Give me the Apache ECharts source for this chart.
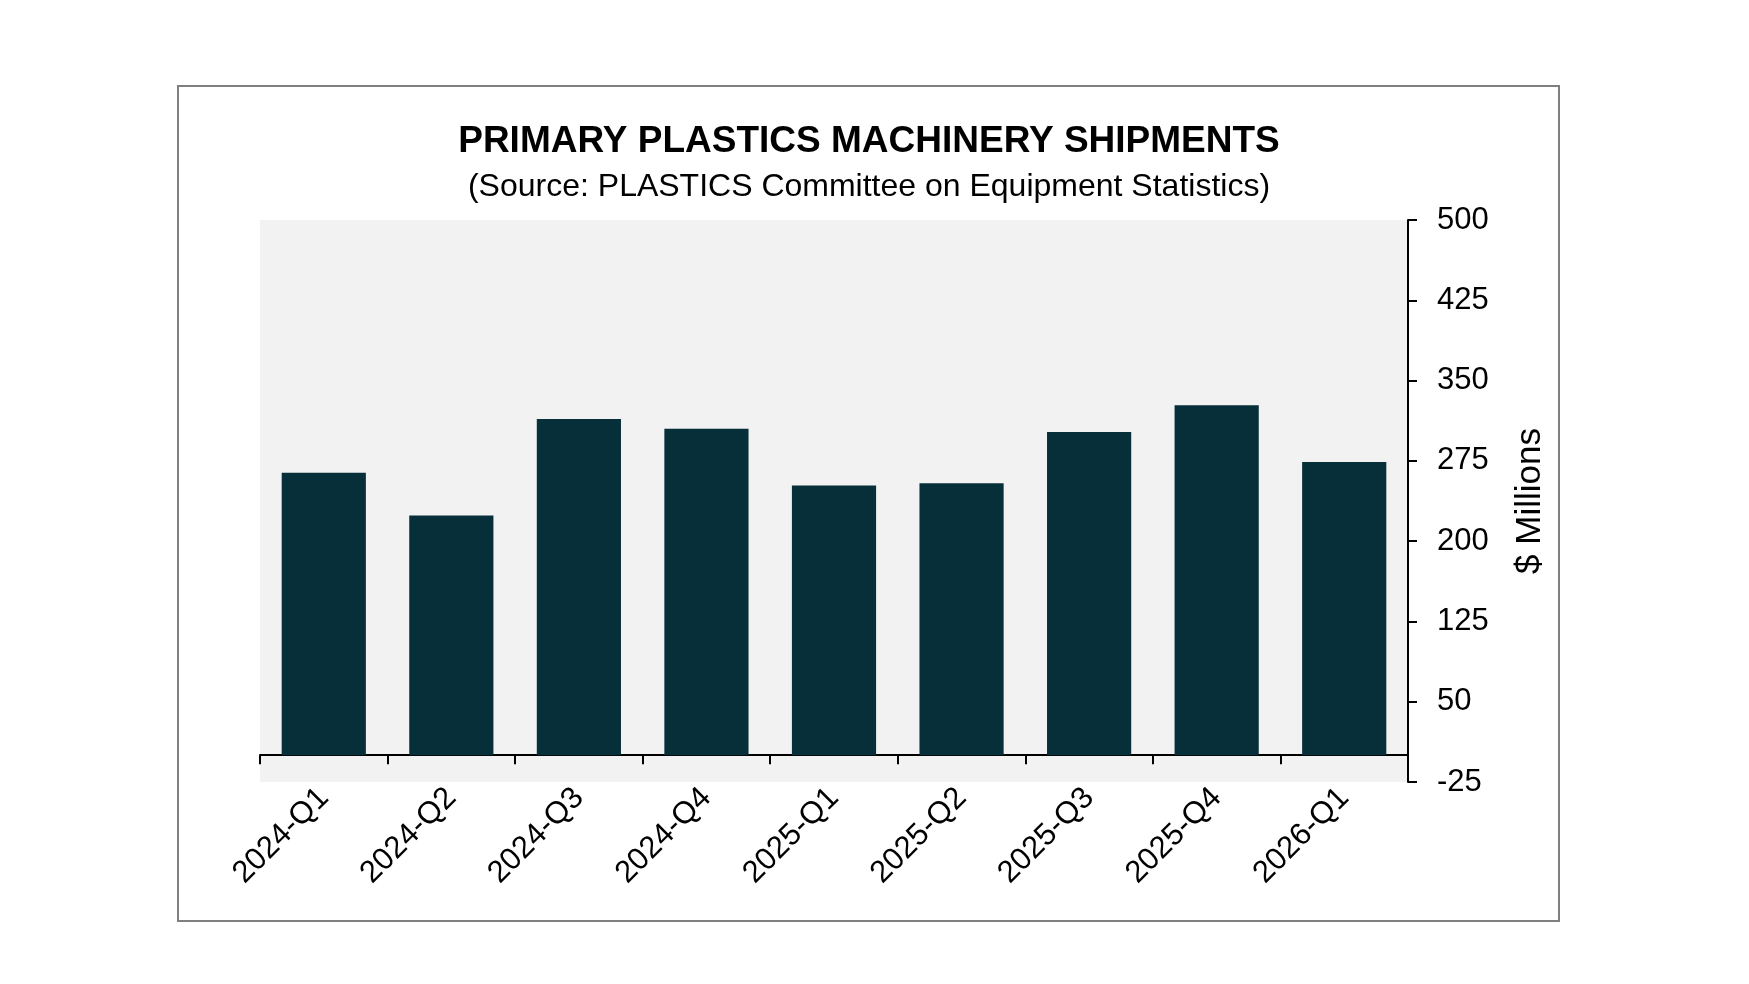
<!DOCTYPE html>
<html>
<head>
<meta charset="utf-8">
<script src="https://cdn.jsdelivr.net/npm/echarts@6/dist/echarts.min.js"></script>
<style>
  html, body { margin: 0; padding: 0; background: #fff; }
  #chart { width: 1749px; height: 984px; }
</style>
</head>
<body>
<div id="chart"></div>
<script>
// quarters and shipments ($ millions)
const categories = ['2024-Q1', '2024-Q2', '2024-Q3', '2024-Q4', '2025-Q1', '2025-Q2', '2025-Q3', '2025-Q4', '2026-Q1']
const shipments = [264, 224, 314, 305, 252, 254, 302, 327, 274]
const yMin = -25
const yMax = 500
const yStep = 75

const chart = echarts.init(document.getElementById('chart'))
const font = 'Liberation Sans, Arial, sans-serif'

chart.setOption({
    animation: false,
    backgroundColor: '#ffffff',
    graphic: [
        {
            type: 'rect',
            shape: { x: 178, y: 86, width: 1381, height: 835 },
            style: { fill: 'none', stroke: '#7f7f7f', lineWidth: 2 },
            z: 0
        }
    ],
    title: [
        {
            text: 'PRIMARY PLASTICS MACHINERY SHIPMENTS',
            left: 864,
            top: 118,
            textAlign: 'center',
            textStyle: { fontFamily: font, fontSize: 37, fontWeight: 'bold', color: '#000' }
        },
        {
            text: '(Source: PLASTICS Committee on Equipment Statistics)',
            left: 864,
            top: 166,
            textAlign: 'center',
            textStyle: { fontFamily: font, fontSize: 32, fontWeight: 'normal', color: '#000' }
        }
    ],
    grid: {
        left: 260,
        right: 341,
        top: 220,
        bottom: 202,
        show: true,
        backgroundColor: '#f2f2f2',
        borderWidth: 0
    },
    xAxis: {
        type: 'category',
        data: categories,
        axisLine: { onZero: true, lineStyle: { color: '#000', width: 2 } },
        axisTick: { show: true, length: 9, lineStyle: { color: '#000', width: 2 } },
        axisLabel: {
            interval: 0,
            rotate: 45,
            margin: 11,
            fontFamily: font,
            fontSize: 31,
            color: '#000'
        },
        splitLine: { show: false }
    },
    yAxis: {
        type: 'value',
        position: 'right',
        min: yMin,
        max: yMax,
        interval: yStep,
        name: '$ Millions',
        nameLocation: 'middle',
        nameGap: 105,
        nameRotate: 90,
        nameTextStyle: { fontFamily: font, fontSize: 35, color: '#000' },
        axisLine: { show: true, lineStyle: { color: '#000', width: 2 } },
        axisTick: { show: true, length: 9, lineStyle: { color: '#000', width: 2 } },
        axisLabel: { margin: 29, fontFamily: font, fontSize: 31, color: '#000' },
        splitLine: { show: false }
    },
    series: [
        {
            type: 'bar',
            data: shipments,
            barCategoryGap: '34%',
            itemStyle: { color: '#072f3a' }
        }
    ]
})
</script>
</body>
</html>
